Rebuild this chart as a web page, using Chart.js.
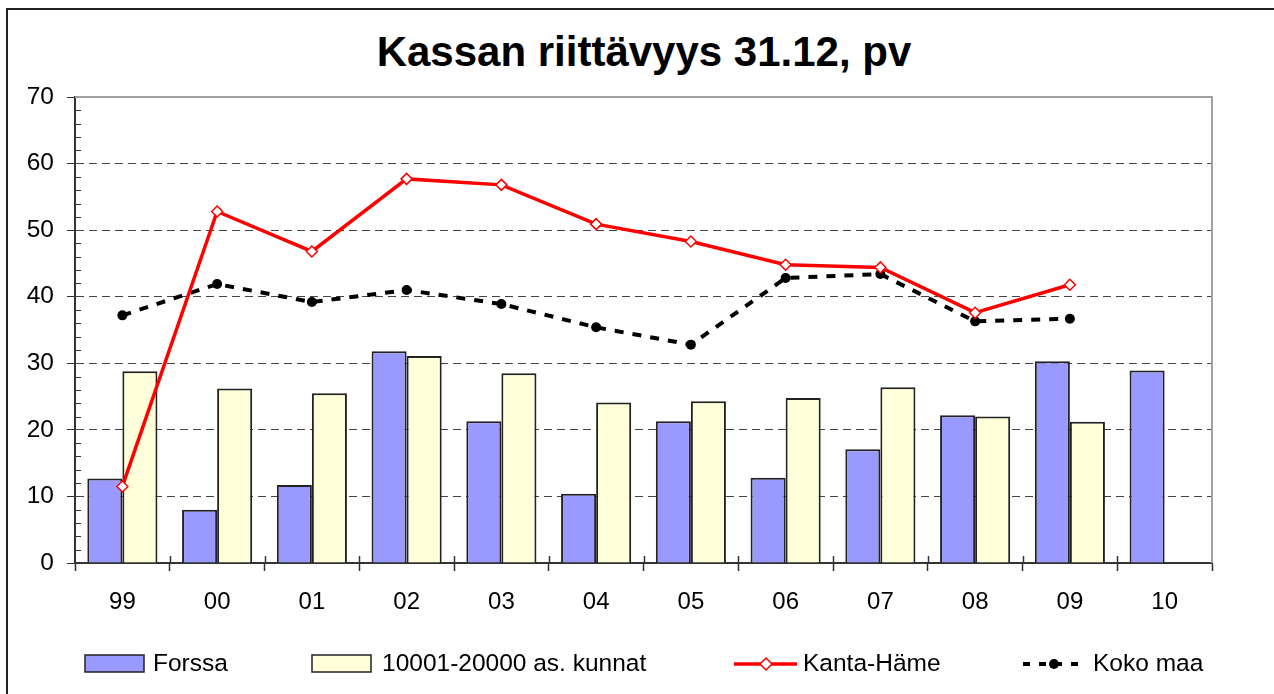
<!DOCTYPE html>
<html>
<head>
<meta charset="utf-8">
<script src="https://cdn.jsdelivr.net/npm/chart.js@4"></script>
<style>
    body { margin: 0; background: #fff; font-family: "Liberation Sans", Arial, sans-serif; }
    #wrap { position: relative; width: 1274px; height: 694px; overflow: hidden; }
    #frame { position: absolute; left: 6px; top: 8px; width: 1400px; height: 800px;
             border-left: 2px solid #222; border-top: 2px solid #222; }
    #title { position: absolute; left: 0; width: 1288px; top: 31px; text-align: center;
             font-weight: bold; font-size: 42px; line-height: 42px; color: #000; }
    .leg { position: absolute; top: 651px; font-size: 24.5px; line-height: 24px; color: #000; white-space: nowrap; }
    .sw { position: absolute; top: 654px; }
    canvas { position: absolute; left: 0; top: 0; }
</style>
</head>
<body>
<div id="wrap">
    <div id="frame"></div>
    <div id="title">Kassan riittävyys 31.12, pv</div>
    <canvas id="kassaChart" width="1274" height="694"></canvas>
    <div id="legend"></div>
</div>
<script>
console.log("kassa chart loading");

/* Data */
const years = ["99", "00", "01", "02", "03", "04", "05", "06", "07", "08", "09", "10"];
const forssa = [12.7, 8.0, 11.7, 31.8, 21.3, 10.4, 21.3, 12.8, 17.1, 22.2, 30.3, 28.9];
const kunnat = [28.8, 26.2, 25.5, 31.1, 28.5, 24.1, 24.3, 24.8, 26.4, 22.0, 21.2, null];
const kantaHame = [11.5, 52.8, 46.8, 57.7, 56.8, 50.9, 48.3, 44.8, 44.4, 37.6, 41.8, null];
const kokoMaa = [37.2, 41.9, 39.2, 41.0, 38.9, 35.4, 32.8, 42.8, 43.4, 36.3, 36.7, null];
const yTicks = [0, 10, 20, 30, 40, 50, 60, 70];

const seriesNames = ["Forssa", "10001-20000 as. kunnat", "Kanta-Häme", "Koko maa"];

/* Frame, minor ticks and category ticks */
const framePlugin = {
    id: "frame",
    afterDraw(chart) {
        const { ctx, chartArea: a, scales } = chart;
        ctx.save();
        // grey plot border top + right
        ctx.strokeStyle = "#a0a0a0";
        ctx.lineWidth = 2;
        ctx.beginPath();
        ctx.moveTo(a.left, a.top);
        ctx.lineTo(a.right, a.top);
        ctx.lineTo(a.right, a.bottom);
        ctx.stroke();

        // minor ticks on y axis, inside
        ctx.strokeStyle = "#333";
        ctx.lineWidth = 1;
        const y = scales.y;
        for (let v = y.min; v <= y.max; v += 2) {
            if (v % 10 === 0) continue;
            const py = Math.round(y.getPixelForValue(v)) + 0.5;
            ctx.beginPath();
            ctx.moveTo(a.left, py);
            ctx.lineTo(a.left + 6, py);
            ctx.stroke();
        }

        // small marks above axis at category borders
        const x = scales.x;
        const w = x.width / years.length;
        ctx.lineWidth = 1.5;
        for (let i = 1; i < years.length; i++) {
            const px = Math.round(x.getPixelForValue(i) - w / 2) + 0.5;
            ctx.beginPath();
            ctx.moveTo(px, a.bottom - 7);
            ctx.lineTo(px, a.bottom);
            ctx.stroke();
        }
        ctx.restore();
    }
};

const ctx = document.getElementById("kassaChart");
new Chart(ctx, {
    type: "bar",
    data: {
        labels: years,
        datasets: [
            {
                type: "line",
                label: seriesNames[2],
                data: kantaHame,
                borderColor: "#ff0000",
                borderWidth: 3.5,
                pointStyle: "rectRot",
                pointRadius: 5.5,
                pointBackgroundColor: "#ffffff",
                pointBorderColor: "#ff0000",
                pointBorderWidth: 1.5,
                tension: 0,
                order: 0,
            },
            {
                type: "line",
                label: seriesNames[3],
                data: kokoMaa,
                borderColor: "#000000",
                borderWidth: 4,
                borderDash: [9, 9],
                pointStyle: "circle",
                pointRadius: 5,
                pointBackgroundColor: "#000000",
                pointBorderColor: "#000000",
                pointBorderWidth: 0,
                tension: 0,
                order: 0,
            },
            {
                label: seriesNames[0],
                data: forssa,
                backgroundColor: "#9999ff",
                borderColor: "#222222",
                borderWidth: 2,
                categoryPercentage: 0.74,
                barPercentage: 1.0,
                order: 1,
            },
            {
                label: seriesNames[1],
                data: kunnat,
                backgroundColor: "#ffffd9",
                borderColor: "#222222",
                borderWidth: 2,
                categoryPercentage: 0.74,
                barPercentage: 1.0,
                order: 1,
            },
        ]
    },
    options: {
        responsive: false,
        animation: false,
        layout: {
            padding: { top: 97, right: 62, bottom: 71, left: 0 }
        },
        plugins: {
            legend: { display: false },
            title: { display: false },
            tooltip: { enabled: false }
        },
        scales: {
            x: {
                offset: true,
                afterFit: (scale) => { scale.height = 60; },
                grid: {
                    offset: true,
                    drawOnChartArea: false,
                    drawTicks: true,
                    tickLength: 8,
                    tickColor: "#333",
                    tickWidth: 1.5,
                },
                border: { display: true, color: "#333", width: 2 },
                ticks: {
                    color: "#000",
                    padding: 17,
                    maxRotation: 0,
                    font: { family: "Liberation Sans", size: 24 }
                }
            },
            y: {
                min: 0,
                max: 70,
                afterFit: (scale) => { scale.width = 75; },
                afterBuildTicks: (scale) => {
                    scale.ticks = yTicks.map(v => ({ value: v }));
                },
                grid: {
                    color: (c) => (c.tick && (c.tick.value === 0 || c.tick.value === 70)) ? "rgba(0,0,0,0)" : "#444",
                    lineWidth: 1,
                    drawTicks: true,
                    tickLength: 8,
                    tickColor: "#333",
                    tickWidth: 1,
                },
                border: { display: true, color: "#333", width: 2, dash: [8, 5] },
                ticks: {
                    color: "#000",
                    padding: 13,
                    font: { family: "Liberation Sans", size: 24.5 }
                }
            }
        }
    },
    plugins: [framePlugin]
});

/* Legend (HTML) */
function buildLegend() {
    const legend = document.getElementById("legend");
    const items = [
        { swLeft: 84, txtLeft: 153, svg: '<svg width="62" height="20"><rect x="1" y="1" width="59" height="17" fill="#9999ff" stroke="#222" stroke-width="1.5"/></svg>' },
        { swLeft: 311, txtLeft: 382, svg: '<svg width="62" height="20"><rect x="1" y="1" width="59" height="17" fill="#ffffd9" stroke="#222" stroke-width="1.5"/></svg>' },
        { swLeft: 734, txtLeft: 803, svg: '<svg width="64" height="20"><line x1="0" y1="10" x2="63" y2="10" stroke="#ff0000" stroke-width="3.5"/><polygon points="32,4 38,10 32,16 26,10" fill="#fff" stroke="#ff0000" stroke-width="1.5"/></svg>' },
        { swLeft: 1023, txtLeft: 1093, svg: '<svg width="64" height="20"><line x1="0" y1="10" x2="63" y2="10" stroke="#000" stroke-width="4" stroke-dasharray="7,9"/><circle cx="31" cy="10" r="5" fill="#000"/></svg>' },
    ];
    items.forEach((it, i) => {
        const sw = document.createElement("div");
        sw.className = "sw";
        sw.style.left = it.swLeft + "px";
        sw.innerHTML = it.svg;
        legend.appendChild(sw);
        const txt = document.createElement("div");
        txt.className = "leg";
        txt.style.left = it.txtLeft + "px";
        txt.textContent = seriesNames[i];
        legend.appendChild(txt);
    });
}
buildLegend();
</script>
</body>
</html>
